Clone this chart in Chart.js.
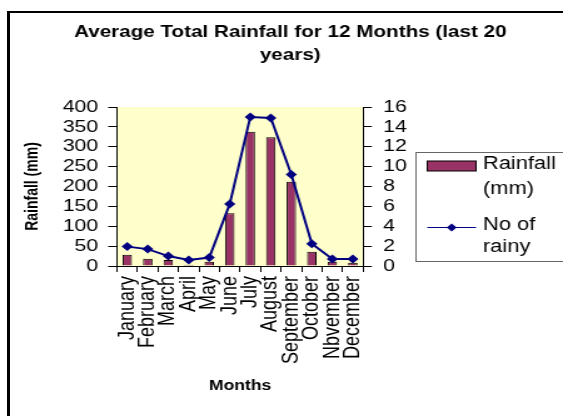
<!DOCTYPE html>
<html>
<head>
<meta charset="utf-8">
<script src="https://cdn.jsdelivr.net/npm/chart.js@4/dist/chart.umd.min.js"></script>
<style>
  body { margin: 0; background: #fff; }
  #frame { position: absolute; left: 7px; top: 11px; width: 600px; height: 450px;
           border-left: 3px solid #000; border-top: 2px solid #000; }
  #wrap { position: absolute; left: 0; top: 0; width: 450px; height: 416px;
          transform: scale(1.2511, 1); transform-origin: 0 0; }
</style>
</head>
<body>
<div id="frame"></div>
<div id="wrap"><canvas id="rainChart" width="450" height="416"></canvas></div>
<script>
// chart data
const months = ['January', 'February', 'March', 'April', 'May', 'June', 'July',
                'August', 'September', 'October', 'Nbvember', 'December'];
const rainfall = [28, 18, 15, 3, 11, 133, 338, 324, 212, 36, 11, 8];
const rainyDays = [1.95, 1.7, 1.0, 0.6, 0.85, 6.25, 15.0, 14.9, 9.2, 2.25, 0.7, 0.7];
const titleLines = ['Average Total Rainfall for 12 Months (last 20', 'years)'];
const legendLabels = [['Rainfall', '(mm)'], ['No of', 'rainy']];

const FONT = "'Liberation Sans', Arial, sans-serif";
const barColor = '#993366';
const lineColor = '#000080';

// yellow plot background
const plotBg = {
    id: 'plotBg',
    beforeDraw(chart) {
        const a = chart.chartArea;
        const c = chart.ctx;
        c.save();
        c.fillStyle = '#FFFFCC';
        c.fillRect(a.left, a.top, a.right - a.left, a.bottom - a.top);
        c.restore();
    }
};

// month labels read bottom-to-top, so draw them here
const monthLabels = {
    id: 'monthLabels',
    afterDraw(chart) {
        const xs = chart.scales.x;
        const c = chart.ctx;
        c.save();
        c.font = '18px ' + FONT;
        c.fillStyle = '#000';
        c.textAlign = 'right';
        c.textBaseline = 'middle';
        months.forEach((m, i) => {
            c.save();
            c.translate(xs.getPixelForTick(i), xs.top + 10);
            c.rotate(-Math.PI / 2);
            c.fillText(m, 0, 0);
            c.restore();
        });
        c.restore();
    }
};

// legend box on the right
const sideLegend = {
    id: 'sideLegend',
    afterDraw(chart) {
        const c = chart.ctx;
        c.save();
        c.strokeStyle = '#666';
        c.lineWidth = 1;
        c.strokeRect(332.5, 152.5, 130, 109);
        // bar key
        c.fillStyle = barColor;
        c.fillRect(341.5, 161, 39, 10);
        c.strokeStyle = '#000';
        c.strokeRect(341.5, 161, 39, 10);
        // line key
        c.strokeStyle = lineColor;
        c.beginPath();
        c.moveTo(341.5, 227.5);
        c.lineTo(380.5, 227.5);
        c.stroke();
        c.fillStyle = lineColor;
        c.beginPath();
        c.moveTo(361, 223.5);
        c.lineTo(365, 227.5);
        c.lineTo(361, 231.5);
        c.lineTo(357, 227.5);
        c.closePath();
        c.fill();
        c.fillStyle = '#000';
        c.font = '17.5px ' + FONT;
        c.textAlign = 'left';
        c.textBaseline = 'middle';
        c.fillText(legendLabels[0][0], 386, 164);
        c.fillText(legendLabels[0][1], 386, 189);
        c.fillText(legendLabels[1][0], 386, 225);
        c.fillText(legendLabels[1][1], 386, 247);
        c.restore();
    }
};

const ctx = document.getElementById('rainChart').getContext('2d');

new Chart(ctx, {
    type: 'bar',
    data: {
        labels: months,
        datasets: [
            {
                type: 'bar',
                label: 'Rainfall (mm)',
                data: rainfall,
                yAxisID: 'y',
                backgroundColor: barColor,
                borderColor: '#000',
                borderWidth: 1,
                barPercentage: 0.46,
                categoryPercentage: 1,
                order: 1
            },
            {
                type: 'line',
                label: 'No of rainy',
                data: rainyDays,
                yAxisID: 'y1',
                borderColor: lineColor,
                borderWidth: 2,
                backgroundColor: lineColor,
                pointStyle: 'rectRot',
                pointRadius: 4.5,
                pointBorderWidth: 0,
                tension: 0,
                order: 0
            }
        ]
    },
    options: {
        responsive: false,
        animation: false,
        layout: { padding: { top: 12, left: 14, right: 0, bottom: 0 } },
        plugins: {
            legend: { display: false },
            tooltip: { enabled: false },
            title: {
                display: true,
                text: titleLines,
                color: '#000',
                font: { family: FONT, size: 16.5, weight: 'bold', lineHeight: 1.394 },
                padding: { top: 8.5, bottom: 40.5 }
            }
        },
        scales: {
            x: {
                grid: { drawOnChartArea: false, tickLength: 6, color: '#000', offset: true },
                border: { color: '#000', width: 1 },
                ticks: { display: false },
                title: {
                    display: true,
                    text: 'Months',
                    color: '#000',
                    font: { family: FONT, size: 14, weight: 'bold' },
                    padding: { top: 0, bottom: 21 }
                },
                afterFit(scale) { scale.height = 150; }
            },
            y: {
                position: 'left',
                min: 0,
                max: 400,
                ticks: { stepSize: 50, autoSkip: false, color: '#000', padding: 8,
                         font: { family: FONT, size: 17, lineHeight: 1 } },
                grid: { drawOnChartArea: false, tickLength: 7, color: '#000' },
                border: { color: '#000', width: 1 },
                title: {
                    display: true,
                    text: 'Rainfall (mm)',
                    color: '#000',
                    font: { family: FONT, size: 14, weight: 'bold' },
                    padding: { top: 4, bottom: 0 }
                },
                afterFit(scale) { scale.width = 79.5; }
            },
            y1: {
                position: 'right',
                min: 0,
                max: 16,
                ticks: { stepSize: 2, autoSkip: false, color: '#000', padding: 9,
                         font: { family: FONT, size: 17, lineHeight: 1 } },
                grid: { drawOnChartArea: false, tickLength: 7, color: '#000' },
                border: { color: '#000', width: 1 },
                afterFit(scale) { scale.width = 159.8; }
            }
        }
    },
    plugins: [plotBg, monthLabels, sideLegend]
});
</script>
</body>
</html>
